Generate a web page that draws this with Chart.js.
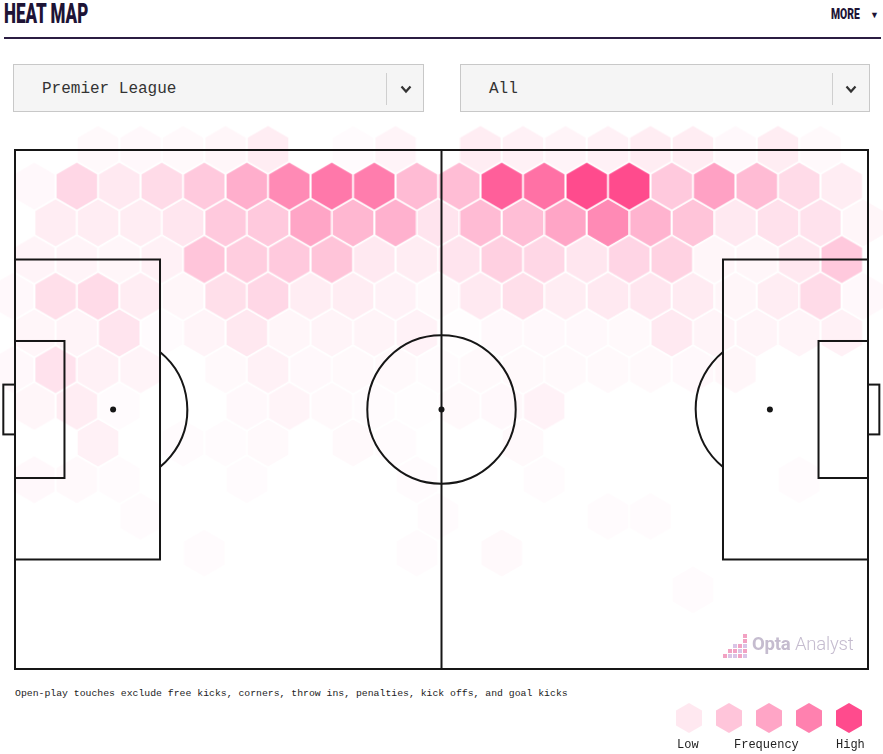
<!DOCTYPE html>
<html>
<head>
<meta charset="utf-8">
<title>Heat Map</title>
<script src="https://cdn.jsdelivr.net/npm/chart.js@4.4.1/dist/chart.umd.min.js"></script>
<style>
    body { margin: 0; background: #fff; }
    #page { position: relative; width: 883px; height: 754px; overflow: hidden; font-family: Roboto, sans-serif; }
    .title { position: absolute; left: 4px; top: -2px; font-size: 27px; font-weight: 900; color: #1e1436; transform: scaleX(0.63); transform-origin: left top; letter-spacing: 0; }
    .more { position: absolute; left: 831px; top: 6px; font-size: 14px; font-weight: 900; color: #1e1436; transform: scaleX(0.74); transform-origin: left top; }
    .more-arrow { position: absolute; left: 870px; top: 10px; font-size: 9px; color: #1e1436; }
    .rule { position: absolute; left: 4px; top: 37px; width: 877px; height: 2px; background: #2b1d42; }
    .select { position: absolute; top: 64px; height: 48px; background: #f5f5f5; border: 1px solid #c8c8c8; box-sizing: border-box; }
    .select span { position: absolute; left: 28px; top: 15px; font-family: "Liberation Mono", "DejaVu Sans Mono", monospace; font-size: 16px; color: #333; }
    .select .divider { position: absolute; top: 8px; width: 1px; height: 32px; background: #cfcfcf; }
    .select svg { position: absolute; top: 20px; }
    #chart-wrap { position: absolute; left: 0; top: 120px; width: 883px; height: 560px; }
    .caption { position: absolute; left: 15px; top: 688px; font-family: "Liberation Mono", "DejaVu Sans Mono", monospace; font-size: 9.8px; color: #222; }
    .legend-hex { position: absolute; top: 703px; width: 26px; height: 30px; clip-path: polygon(50% 0, 100% 25%, 100% 75%, 50% 100%, 0 75%, 0 25%); }
    .legend-label { position: absolute; top: 738px; font-family: "Liberation Mono", "DejaVu Sans Mono", monospace; font-size: 12px; color: #222; }
    .watermark { position: absolute; left: 752px; top: 633px; font-size: 18.5px; color: #c5bccf; letter-spacing: -0.2px; }
    .watermark b { font-weight: 700; }
    .watermark i { font-style: normal; font-weight: 300; }
    .px { position: absolute; width: 4px; height: 4px; }
</style>
</head>
<body>
<div id="page">
    <div class="title">HEAT MAP</div>
    <div class="more">MORE</div>
    <div class="more-arrow">&#9660;</div>
    <div class="rule"></div>

    <div class="select" style="left:13px; width:411px;">
        <span>Premier League</span>
        <div class="divider" style="left:372px;"></div>
        <svg width="12" height="9" style="left:386px;"><polyline points="1.5,1.5 6,6.5 10.5,1.5" fill="none" stroke="#333" stroke-width="2.2"/></svg>
    </div>
    <div class="select" style="left:460px; width:410px;">
        <span>All</span>
        <div class="divider" style="left:371px;"></div>
        <svg width="12" height="9" style="left:384px;"><polyline points="1.5,1.5 6,6.5 10.5,1.5" fill="none" stroke="#333" stroke-width="2.2"/></svg>
    </div>

    <div id="chart-wrap"><canvas id="heatChart" width="883" height="560"></canvas></div>

    <div id="logo"></div>
    <div class="watermark"><b>Opta</b> <i>Analyst</i></div>

    <div class="caption">Open-play touches exclude free kicks, corners, throw ins, penalties, kick offs, and goal kicks</div>
    <div id="legend"></div>
</div>

<script>
// Touch frequency per hex (0 = none, 1 = highest), one array per hex row, top row first.
// Even rows have 21 hexes, odd rows are shifted half a hex and have 20.
const row0  = [0, 0, 0.03, 0.04, 0.03, 0.05, 0.1, 0, 0.02, 0.06, 0, 0.1, 0.08, 0.06, 0.08, 0.1, 0.1, 0.04, 0.1, 0.03, 0];
const row1  = [0.04, 0.22, 0.12, 0.2, 0.3, 0.45, 0.65, 0.75, 0.72, 0.38, 0.37, 0.89, 0.79, 1.0, 1.0, 0.3, 0.52, 0.38, 0.2, 0.1];
const row2  = [0, 0.1, 0.1, 0.1, 0.14, 0.3, 0.3, 0.5, 0.4, 0.43, 0.15, 0.38, 0.36, 0.5, 0.65, 0.42, 0.33, 0.12, 0.17, 0.16, 0.05];
const row3  = [0.06, 0.06, 0.05, 0.08, 0.32, 0.28, 0.3, 0.33, 0.12, 0.1, 0.15, 0.26, 0.22, 0.14, 0.23, 0.25, 0.05, 0.05, 0.13, 0.3];
const row4  = [0.04, 0.18, 0.2, 0.1, 0.05, 0.18, 0.22, 0.1, 0.1, 0.07, 0.03, 0.12, 0.18, 0.1, 0.12, 0.14, 0.11, 0.05, 0.1, 0.2, 0.04];
const row5  = [0.05, 0.06, 0.15, 0.02, 0.06, 0.13, 0.05, 0.06, 0.06, 0.07, 0.01, 0.04, 0.04, 0.04, 0.03, 0.12, 0.06, 0.06, 0.06, 0.08];
const row6  = [0.04, 0.16, 0.08, 0.06, 0, 0.03, 0.08, 0.04, 0.03, 0.03, 0.02, 0.03, 0.03, 0.03, 0.03, 0.03, 0.04, 0.05, 0, 0, 0];
const row7  = [0.05, 0.1, 0.02, 0, 0, 0.04, 0.06, 0.03, 0.02, 0.01, 0.03, 0.04, 0.07, 0, 0, 0, 0, 0, 0, 0];
const row8  = [0, 0, 0.08, 0, 0.02, 0.02, 0.03, 0, 0.03, 0.02, 0, 0, 0.03, 0, 0, 0, 0, 0, 0, 0, 0];
const row9  = [0.04, 0.03, 0.02, 0, 0, 0.02, 0, 0, 0, 0.02, 0, 0, 0.02, 0, 0, 0, 0, 0, 0.02, 0];
const row10 = [0, 0, 0, 0.02, 0, 0, 0, 0, 0, 0, 0.02, 0, 0, 0, 0.02, 0.02, 0, 0, 0, 0, 0];
const row11 = [0, 0, 0, 0, 0.02, 0, 0, 0, 0, 0.02, 0, 0.03, 0, 0, 0, 0, 0, 0, 0, 0];
const row12 = [0, 0, 0, 0, 0, 0, 0, 0, 0, 0, 0, 0, 0, 0, 0, 0, 0.02, 0, 0, 0, 0];
const hexRows = [row0, row1, row2, row3, row4, row5, row6, row7, row8, row9, row10, row11, row12];

// Legend
const legendLevels = [0.13, 0.32, 0.5, 0.7, 1.0];
const legendLabels = ['Low', 'Frequency', 'High'];

// Hex grid in pitch units (Opta 0-100 on both axes)
const HEX_COL = 4.982;
const HEX_ROW = 7.07;
const HEX_X0 = -0.23;
const HEX_Y0 = -0.1;
const HEX_R = 23.4; // drawn radius in px

const hexCache = {};
function hexColor(v) {
    return `rgba(255, 75, 141, ${v})`;
}

function hexImage(v) {
    const key = v.toFixed(3);
    if (hexCache[key]) return hexCache[key];
    const c = document.createElement('canvas');
    c.width = 42;
    c.height = 50;
    const g = c.getContext('2d');
    g.beginPath();
    for (let i = 0; i < 6; i++) {
        const a = (Math.PI / 180) * (60 * i - 90);
        const px = 21 + HEX_R * Math.cos(a);
        const py = 25 + HEX_R * Math.sin(a);
        if (i === 0) g.moveTo(px, py); else g.lineTo(px, py);
    }
    g.closePath();
    g.fillStyle = hexColor(v);
    g.fill();
    hexCache[key] = c;
    return c;
}

function buildPoints() {
    const pts = [];
    hexRows.forEach((row, r) => {
        const shift = r % 2 === 1 ? HEX_COL / 2 : 0;
        row.forEach((v, k) => {
            if (v <= 0) return;
            pts.push({ x: HEX_X0 + shift + k * HEX_COL, y: HEX_Y0 + r * HEX_ROW, v: v });
        });
    });
    return pts;
}

// Pitch markings drawn on top of the hexes
const pitchLines = {
    id: 'pitchLines',
    afterDatasetsDraw(chart) {
        const { ctx, scales } = chart;
        const X = v => scales.x.getPixelForValue(v);
        const Y = v => scales.y.getPixelForValue(v);
        const rect = (x1, y1, x2, y2) => ctx.strokeRect(X(x1), Y(y1), X(x2) - X(x1), Y(y2) - Y(y1));
        const circleR = X(50 + 8.7) - X(50);

        ctx.save();
        ctx.strokeStyle = '#161616';
        ctx.fillStyle = '#161616';
        ctx.lineWidth = 2;

        rect(0, 0, 100, 100);
        ctx.beginPath();
        ctx.moveTo(X(50), Y(0));
        ctx.lineTo(X(50), Y(100));
        ctx.stroke();

        ctx.beginPath();
        ctx.arc(X(50), Y(50), circleR, 0, Math.PI * 2);
        ctx.stroke();

        // boxes, six-yard boxes and goals
        rect(0, 21.1, 17, 78.9);
        rect(83, 21.1, 100, 78.9);
        rect(0, 36.8, 5.8, 63.2);
        rect(94.2, 36.8, 100, 63.2);
        rect(-1.37, 45.2, 0, 54.8);
        rect(100, 45.2, 101.33, 54.8);

        // penalty arcs
        const leftA = Math.acos((X(17) - X(11.5)) / circleR);
        ctx.beginPath();
        ctx.arc(X(11.5), Y(50), circleR, -leftA, leftA);
        ctx.stroke();
        const rightA = Math.acos((X(88.5) - X(83)) / circleR);
        ctx.beginPath();
        ctx.arc(X(88.5), Y(50), circleR, Math.PI - rightA, Math.PI + rightA);
        ctx.stroke();

        // spots
        [11.5, 50, 88.5].forEach(s => {
            ctx.beginPath();
            ctx.arc(X(s), Y(50), 3, 0, Math.PI * 2);
            ctx.fill();
        });
        ctx.restore();
    }
};

function renderChart() {
    const ctx = document.getElementById('heatChart').getContext('2d');
    new Chart(ctx, {
        type: 'scatter',
        data: {
            datasets: [{
                data: buildPoints(),
                pointStyle: c => hexImage(c.raw ? c.raw.v : 0),
                pointRadius: 20,
                pointHoverRadius: 20,
                clip: false
            }]
        },
        options: {
            responsive: false,
            animation: false,
            events: [],
            layout: { autoPadding: false, padding: { left: 15, right: 15, top: 30, bottom: 11 } },
            scales: {
                x: { type: 'linear', min: 0, max: 100, display: false },
                y: { type: 'linear', min: 0, max: 100, reverse: true, display: false }
            },
            plugins: {
                legend: { display: false },
                tooltip: { enabled: false }
            }
        },
        plugins: [pitchLines]
    });
}

function renderLegend() {
    const legend = document.getElementById('legend');
    legendLevels.forEach((v, i) => {
        const h = document.createElement('div');
        h.className = 'legend-hex';
        h.style.left = (676 + i * 40) + 'px';
        h.style.background = hexColor(v);
        legend.appendChild(h);
    });
    const labelX = [677, 734, 836];
    legendLabels.forEach((t, i) => {
        const s = document.createElement('div');
        s.className = 'legend-label';
        s.style.left = labelX[i] + 'px';
        s.innerText = t;
        legend.appendChild(s);
    });
}

function renderLogo() {
    // small pixel mark next to the watermark text
    const logo = document.getElementById('logo');
    const cells = [
        [743, 634, '#f2a2c3'], [743, 639, '#f2a2c3'], [743, 644, '#d9c4e6'], [743, 649, '#f2a2c3'], [743, 654, '#d9c4e6'],
        [738, 644, '#f2a2c3'], [738, 649, '#d9c4e6'], [738, 654, '#f2a2c3'],
        [733, 644, '#d9c4e6'], [733, 649, '#f2a2c3'], [733, 654, '#d9c4e6'],
        [728, 649, '#f2a2c3'], [728, 654, '#d9c4e6'],
        [723, 654, '#f2a2c3']
    ];
    cells.forEach(([x, y, c]) => {
        const d = document.createElement('div');
        d.className = 'px';
        d.style.left = x + 'px';
        d.style.top = y + 'px';
        d.style.background = c;
        logo.appendChild(d);
    });
}

document.addEventListener('DOMContentLoaded', () => {
    renderChart();
    renderLegend();
    renderLogo();
});
</script>
</body>
</html>
